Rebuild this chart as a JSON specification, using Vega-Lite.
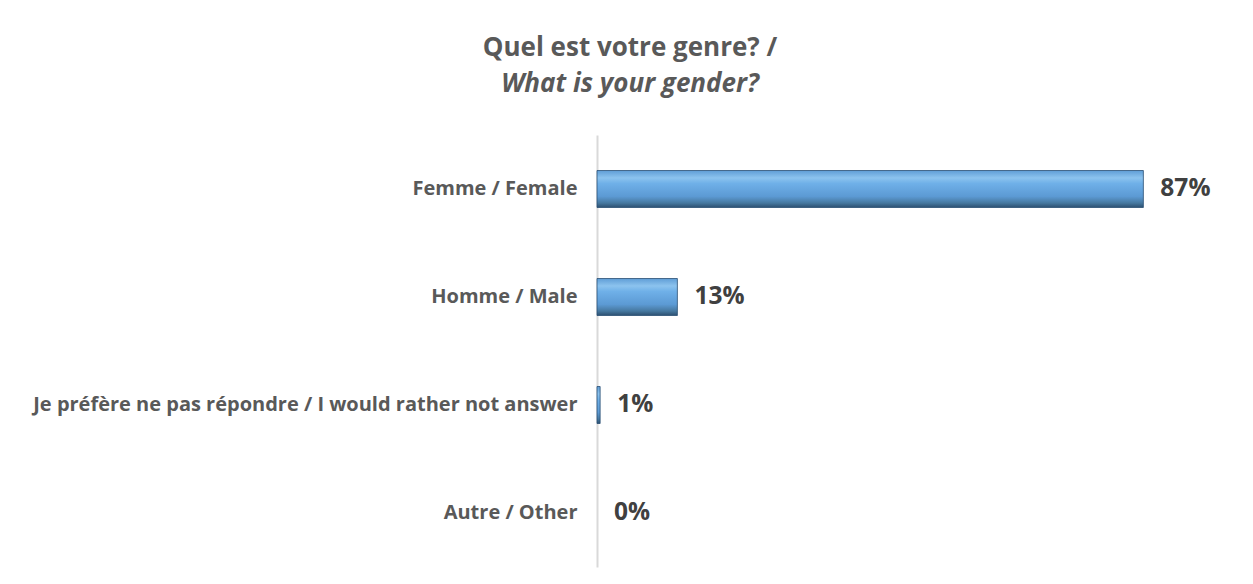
{
  "$schema": "https://vega.github.io/schema/vega-lite/v6.json",
  "width": 628,
  "height": 432,
  "autosize": {"type": "none"},
  "padding": {"left": 597, "top": 135, "right": 28, "bottom": 17},
  "background": "white",
  "title": {
    "text": "Quel est votre genre? /",
    "subtitle": "What is your gender?",
    "anchor": "middle",
    "frame": "group",
    "dx": -281,
    "offset": 38,
    "font": "Open Sans",
    "fontSize": 26,
    "fontWeight": "bold",
    "color": "#595959",
    "subtitleFont": "Open Sans",
    "subtitleFontSize": 26,
    "subtitleFontWeight": "bold",
    "subtitleFontStyle": "italic",
    "subtitleColor": "#595959",
    "subtitlePadding": 10
  },
  "data": {
    "values": [
      {"category": "Femme / Female", "value": 87, "label": "87%"},
      {"category": "Homme / Male", "value": 12.8, "label": "13%"},
      {"category": "Je préfère ne pas répondre / I would rather not answer", "value": 0.5, "label": "1%"},
      {"category": "Autre / Other", "value": 0, "label": "0%"}
    ]
  },
  "encoding": {
    "y": {
      "field": "category",
      "type": "nominal",
      "sort": null,
      "title": null,
      "axis": {
        "labelFont": "Open Sans",
        "labelFontSize": 20,
        "labelFontWeight": "bold",
        "labelColor": "#595959",
        "labelPadding": 20,
        "labelLimit": 700,
        "ticks": false,
        "domainColor": "#d9d9d9",
        "domainWidth": 2,
        "grid": false
      }
    },
    "x": {
      "field": "value",
      "type": "quantitative",
      "scale": {"domain": [0, 100]},
      "axis": null
    }
  },
  "layer": [
    {
      "transform": [{"filter": "datum.value > 0"}],
      "mark": {
        "type": "bar",
        "size": 37,
        "stroke": "#2a4f74",
        "strokeWidth": 0.8,
        "color": {
          "gradient": "linear",
          "x1": 0, "y1": 0, "x2": 0, "y2": 1,
          "stops": [
            {"offset": 0, "color": "#5f9dd6"},
            {"offset": 0.2, "color": "#8cc3ee"},
            {"offset": 0.35, "color": "#6fb0e8"},
            {"offset": 0.7, "color": "#5c9ad4"},
            {"offset": 0.88, "color": "#46789f"},
            {"offset": 1, "color": "#2c4f70"}
          ]
        }
      }
    },
    {
      "mark": {
        "type": "text",
        "align": "left",
        "baseline": "middle",
        "dx": 17,
        "font": "Open Sans",
        "fontSize": 24.5,
        "fontWeight": "bold",
        "color": "#404040"
      },
      "encoding": {"text": {"field": "label"}}
    }
  ],
  "config": {"view": {"stroke": null}}
}
